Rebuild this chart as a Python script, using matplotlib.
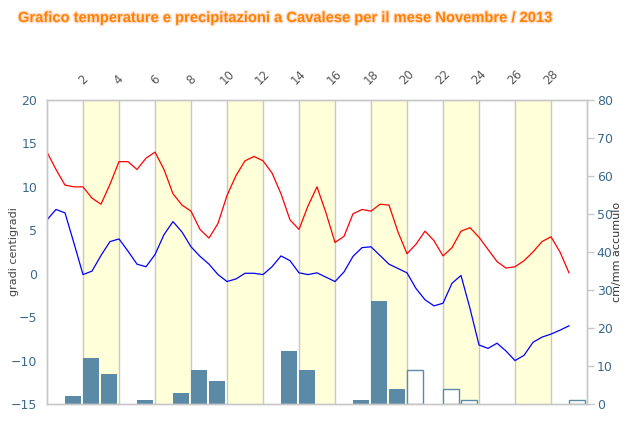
#!/usr/bin/env python3
"""
Temperature / precipitation chart, Cavalese, November 2013.
Red = max-ish curve, blue = min-ish curve (left axis, degC),
bars = accumulated rain/snow (right axis, cm/mm).
"""
import numpy as np
import matplotlib
matplotlib.use("Agg")
import matplotlib.pyplot as plt
import matplotlib.patheffects as pe

# --- data ----------------------------------------------------------------
# temperature curves sampled every half day, starting at day 0
t_step = 0.5
temp_red = [14.0, 12.0, 10.2, 10.0, 10.0, 8.7, 8.0, 10.3, 12.9, 12.9,
            12.0, 13.3, 14.0, 12.0, 9.2, 7.9, 7.2, 5.1, 4.1, 5.8,
            9.0, 11.3, 13.0, 13.5, 13.0, 11.6, 9.2, 6.2, 5.1, 7.8,
            10.0, 7.0, 3.6, 4.3, 6.9, 7.4, 7.2, 8.0, 7.9, 4.8,
            2.3, 3.4, 4.9, 3.8, 2.05, 3.0, 4.9, 5.3, 4.2, 2.8,
            1.4, 0.65, 0.8, 1.5, 2.5, 3.7, 4.25, 2.5, 0.1]
temp_blue = [6.2, 7.4, 7.0, 3.5, -0.1, 0.3, 2.1, 3.7, 4.0, 2.6,
             1.1, 0.8, 2.2, 4.5, 6.0, 4.8, 3.1, 2.0, 1.1, -0.1,
             -0.9, -0.6, 0.05, 0.05, -0.1, 0.8, 2.05, 1.5, 0.1, -0.1,
             0.1, -0.4, -0.9, 0.2, 2.0, 3.0, 3.1, 2.1, 1.1, 0.6,
             0.1, -1.7, -3.0, -3.7, -3.4, -1.1, -0.2, -4.0, -8.2, -8.6,
             -8.0, -8.9, -10.0, -9.4, -7.9, -7.3, -6.95, -6.5, -6.0]

# precipitation, filled bars and outlined bars
rain_days = [1, 2, 3, 5, 7, 8, 9, 13, 14, 17, 18, 19]
rain_mm = [2, 12, 8, 1, 3, 9, 6, 14, 9, 1, 27, 4]
snow_days = [20, 22, 23, 29]
snow_cm = [9, 4, 1, 1]

top_ticks = list(range(2, 30, 2))
shade_starts = [2, 6, 10, 14, 18, 22, 26]

# --- figure ---------------------------------------------------------------
W, H = 625, 423
fig = plt.figure(figsize=(W / 100, H / 100), dpi=100)
ax = fig.add_axes([47 / W, 1 - 404 / H, 540 / W, 304 / H])   # bars, right scale
axt = ax.twinx()                                               # temperatures, left scale

grid_c = "#c8c8c8"
tick_c = "#3a6a8e"
bar_c = "#5b8aa6"

for s in shade_starts:
    ax.axvspan(s, s + 2, color="#ffffd9", lw=0, zorder=0)
for d in top_ticks:
    ax.axvline(d, color=grid_c, lw=1, zorder=1)

ax.bar(rain_days, rain_mm, width=0.88, align="edge", color=bar_c,
       lw=0, zorder=2)
ax.bar(snow_days, snow_cm, width=0.88, align="edge", facecolor="white",
       edgecolor=bar_c, lw=1, zorder=2)

tx = np.arange(len(temp_red)) * t_step
axt.plot(tx, temp_red, color="red", lw=0.9)
axt.plot(tx, temp_blue, color="blue", lw=0.9)

# scales
ax.set_xlim(0, 30)
ax.set_ylim(0, 80)
axt.set_ylim(-15, 20)

# bar axis on the right
ax.yaxis.tick_right()
ax.yaxis.set_label_position("right")
ax.set_yticks(range(0, 81, 10))
ax.tick_params(axis="y", colors=grid_c, labelcolor=tick_c, labelsize=9,
               length=5, width=1, pad=2)
ax.set_ylabel("cm/mm accumulo", color="#333333", fontsize=8)
ax.yaxis.set_label_coords((612 - 47) / 540, 0.5)

# temperature axis on the left
axt.yaxis.tick_left()
axt.yaxis.set_label_position("left")
axt.set_yticks(range(-15, 21, 5))
axt.tick_params(axis="y", labelcolor=tick_c, labelsize=9, length=0, pad=7)
axt.set_ylabel("gradi centigradi", color="#444444", fontsize=8)
axt.yaxis.set_label_coords((19 - 47) / 540, 0.5)

# day labels on top
ax.xaxis.tick_top()
ax.set_xticks(top_ticks)
ax.set_xticklabels([str(d) for d in top_ticks], rotation=45,
                   ha="center", va="bottom")
ax.tick_params(axis="x", length=0, labelsize=8.5, labelcolor="#555555", pad=9)

for a in (ax, axt):
    for side, sp in a.spines.items():
        sp.set_color(grid_c)
        sp.set_linewidth(1)

fig.text(18 / W, 1 - 18 / H,
         "Grafico temperature e precipitazioni a Cavalese per il mese Novembre / 2013",
         color="#ff8000", fontsize=10.6, fontweight="bold", ha="left", va="center",
         family="Liberation Sans",
         path_effects=[pe.withStroke(linewidth=2, foreground="#ffe0d0")])

fig.savefig("out.png", dpi=100)
print("wrote out.png")
